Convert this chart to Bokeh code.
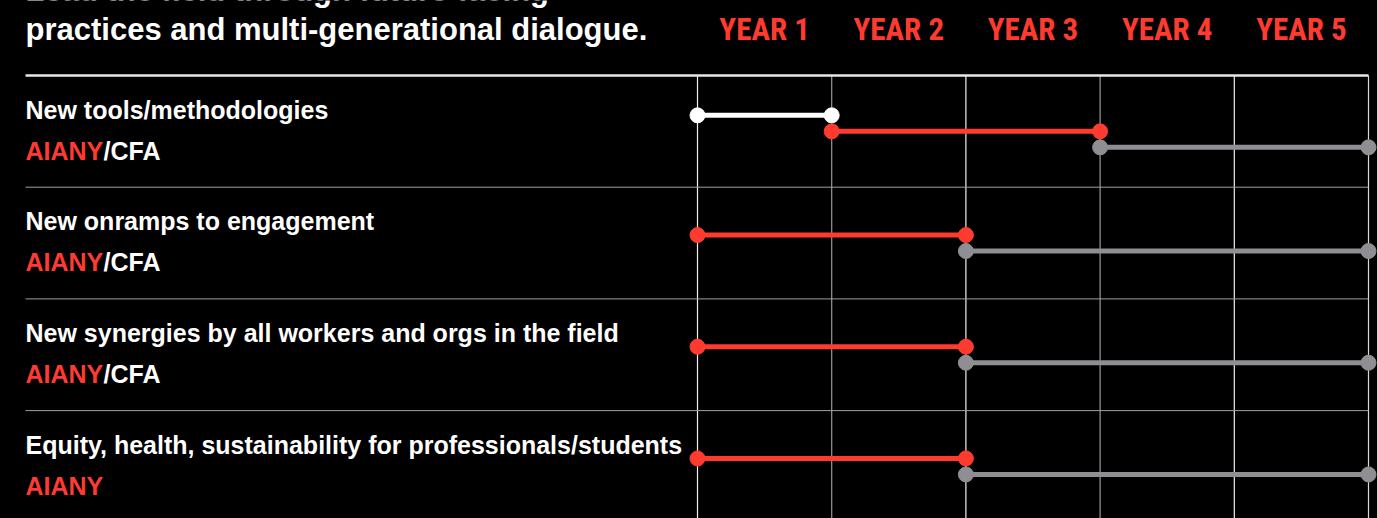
from bokeh.plotting import figure
from bokeh.models import Range1d
from bokeh.core.properties import value
from bokeh.embed import file_html
from bokeh.resources import INLINE

# ---------------- data ----------------
title_lines = ["Lead the field through future-facing",
               "practices and multi-generational dialogue."]
year_labels = ["YEAR 1", "YEAR 2", "YEAR 3", "YEAR 4", "YEAR 5"]
outcomes = ["New tools/methodologies",
            "New onramps to engagement",
            "New synergies by all workers and orgs in the field",
            "Equity, health, sustainability for professionals/students"]
leads = [["AIANY", "CFA"], ["AIANY", "CFA"], ["AIANY", "CFA"], ["AIANY"]]
seg_start = [[0, 1, 3], [0, 2], [0, 2], [0, 2]]
seg_end = [[1, 3, 5], [2, 5], [2, 5], [2, 5]]
seg_kind = [["prep", "AIANY", "CFA"], ["AIANY", "CFA"], ["AIANY", "CFA"], ["AIANY", "CFA"]]

# ---------------- styles / layout ----------------
RED = "#ff3b30"
GRAY = "#8e8e93"
WHITE = "#ffffff"
kind_color = {"prep": WHITE, "AIANY": RED, "CFA": GRAY}
grid_colors = ["#f0f0f0", "#9a9a9a", "#f0f0f0", "#9a9a9a", "#f0f0f0", "#d8d8d8"]
LABEL_FONT = value("Liberation Sans")
HEAD_FONT = value("'Roboto Condensed', 'Liberation Sans Narrow', 'DejaVu Sans Condensed', 'Liberation Sans', sans-serif")

W, H = 1377, 518
X0PX, YEARPX = 697.0, 134.2     # px of year 0, px per year
Y0PX, ROWPX = 75.0, 111.7       # px of top rule, px per row


def sx(px):
    return (px - X0PX) / YEARPX


def sy(px):
    return (px - Y0PX) / ROWPX


p = figure(width=W, height=H, output_backend="svg", toolbar_location=None,
           x_range=Range1d(-X0PX / YEARPX, (W - X0PX) / YEARPX),
           y_range=Range1d((H - Y0PX) / ROWPX, -Y0PX / ROWPX),
           x_axis_type=None, y_axis_type=None,
           background_fill_color="black", border_fill_color="black",
           outline_line_color=None, min_border=0)
p.grid.visible = False

n_years = len(year_labels)
n_rows = len(outcomes)
left = sx(25)
right = float(n_years)

# vertical year lines
for i in range(n_years + 1):
    p.segment(x0=[i], y0=[0], x1=[i], y1=[sy(600)], line_color=grid_colors[i], line_width=1.2)

# row separators
p.segment(x0=[left] * (n_rows - 1), y0=list(range(1, n_rows)),
          x1=[right] * (n_rows - 1), y1=list(range(1, n_rows)),
          line_color="#a0a0a0", line_width=1)
# top rule
p.segment(x0=[left], y0=[0], x1=[right], y1=[0], line_color="#e8e8e8", line_width=2.5)

# title
p.text(x=[left, left], y=[sy(-10), sy(29)], text=title_lines,
       text_font=LABEL_FONT, text_font_style="bold",
       text_font_size="31px", text_color=WHITE, text_baseline="alphabetic")

# year headers
p.text(x=[i + 0.5 for i in range(n_years)], y=[sy(29)] * n_years, text=year_labels,
       text_font=HEAD_FONT, text_font_style="bold",
       text_font_size="31px", text_color=RED, text_align="center",
       text_baseline="alphabetic")

# row labels
p.text(x=[left] * n_rows, y=[r + 34 / ROWPX for r in range(n_rows)], text=outcomes,
       text_font=LABEL_FONT, text_font_style="bold",
       text_font_size="25px", text_color=WHITE, text_baseline="alphabetic")

# lead organisations
for r, orgs in enumerate(leads):
    yb = r + 75 / ROWPX
    p.text(x=[left], y=[yb], text=[orgs[0]],
           text_font=LABEL_FONT, text_font_style="bold",
           text_font_size="25px", text_color=RED, text_baseline="alphabetic")
    if len(orgs) > 1:
        p.text(x=[sx(103)], y=[yb], text=["/" + orgs[1]],
               text_font=LABEL_FONT, text_font_style="bold",
               text_font_size="25px", text_color=WHITE, text_baseline="alphabetic")

# timeline segments
OFF = 16 / ROWPX
lines = {"x0": [], "x1": [], "y": [], "c": []}
for r in range(n_rows):
    n = len(seg_start[r])
    for k in range(n):
        y = r + 0.5 + (k - (n - 1) / 2) * OFF
        lines["x0"].append(seg_start[r][k])
        lines["x1"].append(seg_end[r][k])
        lines["y"].append(y)
        lines["c"].append(kind_color[seg_kind[r][k]])

p.segment(x0=lines["x0"], y0=lines["y"], x1=lines["x1"], y1=lines["y"],
          line_color=lines["c"], line_width=5)
for a, b, y, c in zip(lines["x0"], lines["x1"], lines["y"], lines["c"]):
    p.scatter(x=[a, b], y=[y, y], size=15, fill_color=c, line_color=c)

html = file_html(p, INLINE)
html = html.replace("<head>", "<head><style>html,body{background:#000;}</style>", 1)
open("out.html", "w").write(html)
